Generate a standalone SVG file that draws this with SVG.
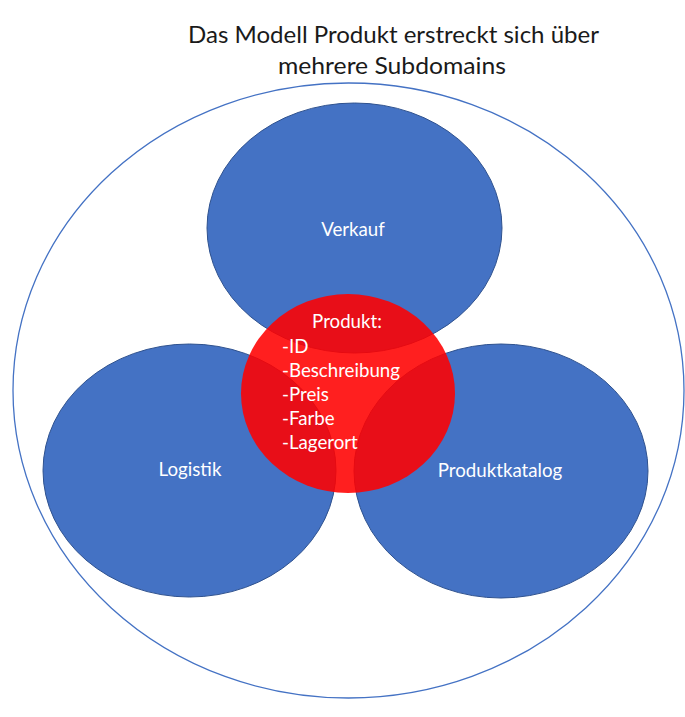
<svg xmlns="http://www.w3.org/2000/svg" width="685" height="717" viewBox="0 0 685 717">
<style>
.t{font-family:Lato,"Open Sans","Liberation Sans",sans-serif;}
.title{font-size:24px;fill:#1a1a1a;text-anchor:middle;}
.lbl{font-size:18.7px;fill:#ffffff;text-anchor:middle;}
.rt{font-size:18.7px;fill:#ffffff;}
.blue{fill:#4472C4;stroke:#2F528F;stroke-width:1;}
</style>
<rect width="685" height="717" fill="#ffffff"/>
<g id="title">
<text class="t title" x="393.5" y="43" textLength="411" lengthAdjust="spacingAndGlyphs">Das Modell Produkt erstreckt sich über</text>
<text class="t title" x="392" y="74" textLength="228" lengthAdjust="spacingAndGlyphs">mehrere Subdomains</text>
</g>
<g id="outer">
<ellipse cx="348.5" cy="390.5" rx="335.5" ry="307.5" fill="none" stroke="#4472C4" stroke-width="1.3"/>
</g>
<g id="verkauf">
<ellipse class="blue" cx="354.5" cy="228" rx="147.5" ry="125"/>
<text class="t lbl" x="353" y="236">Verkauf</text>
</g>
<g id="logistik">
<ellipse class="blue" cx="189.5" cy="470.5" rx="146.5" ry="126.5"/>
<text class="t lbl" x="190" y="476">Logistik</text>
</g>
<g id="produktkatalog">
<ellipse class="blue" cx="501" cy="471" rx="147" ry="127"/>
<text class="t lbl" x="500" y="477">Produktkatalog</text>
</g>
<g id="produkt">
<ellipse cx="348" cy="393.5" rx="107" ry="99.5" fill="#FF0000" fill-opacity="0.88"/>
<text class="t lbl" x="347" y="328">Produkt:</text>
<text class="t rt" x="282" y="353">-ID</text>
<text class="t rt" x="282" y="377">-Beschreibung</text>
<text class="t rt" x="282" y="401">-Preis</text>
<text class="t rt" x="282" y="425">-Farbe</text>
<text class="t rt" x="282" y="449">-Lagerort</text>
</g>
<g id="connectors"></g>
</svg>
